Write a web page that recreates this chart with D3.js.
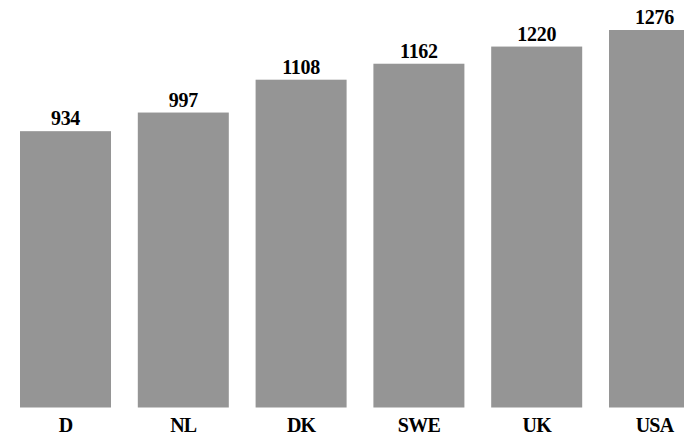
<!DOCTYPE html>
<html>
<head>
<meta charset="utf-8">
<script src="https://cdn.jsdelivr.net/npm/d3@7"></script>
<style>
  body { margin: 0; background: #fff; }
  text { font-family: "Liberation Serif", "Times New Roman", serif; font-weight: bold; fill: #000; }
</style>
</head>
<body>
<script>
const w = 684;
const h = 436;

const countries = ["D", "NL", "DK", "SWE", "UK", "USA"];
const values = [934, 997, 1108, 1162, 1220, 1276];

const data = countries.map((c, i) => ({country: c, value: values[i]}));

const xScale = d3.scaleBand()
                 .domain(countries)
                 .range([20, 700])
                 .paddingInner(0.2275)
                 .paddingOuter(0);

const yScale = d3.scaleLinear()
                 .domain([0, 1276])
                 .range([407.5, 30]);

const svg = d3.select("body")
              .append("svg")
              .attr("width", w)
              .attr("height", h);

svg.selectAll("rect")
   .data(data)
   .enter()
   .append("rect")
   .attr("x", d => xScale(d.country))
   .attr("y", d => yScale(d.value))
   .attr("width", xScale.bandwidth())
   .attr("height", d => yScale(0) - yScale(d.value))
   .attr("fill", "#959595");

// value labels above the bars
svg.selectAll(".value")
   .data(data)
   .enter()
   .append("text")
   .attr("class", "value")
   .attr("x", d => xScale(d.country) + xScale.bandwidth() / 2)
   .attr("y", d => yScale(d.value) - 6)
   .attr("text-anchor", "middle")
   .style("font-size", "20px")
   .style("letter-spacing", "-0.3px")
   .text(d => d.value);

// category labels, no axis line
const xAxis = d3.axisBottom(xScale).tickSize(0).tickPadding(0);

const gx = svg.append("g")
              .attr("transform", "translate(0," + 432 + ")")
              .call(xAxis);
gx.select(".domain").remove();
gx.selectAll("text")
  .attr("dy", 0)
  .attr("fill", "#000")
  .style("font-size", "20px")
  .style("letter-spacing", "-0.8px")
  .style("font-family", "'Liberation Serif', serif")
  .style("font-weight", "bold");
</script>
</body>
</html>
